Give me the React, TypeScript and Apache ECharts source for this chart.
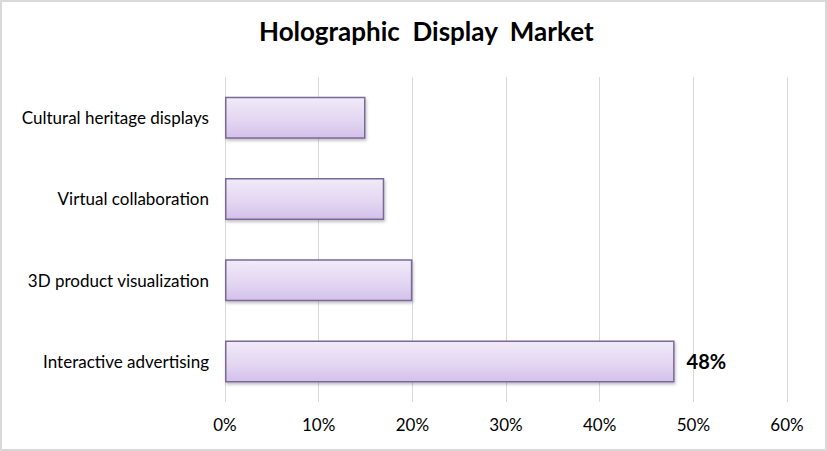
import { useEffect, useRef } from 'react';
import * as echarts from 'echarts';

const categories = [
  'Interactive advertising',
  '3D product visualization',
  'Virtual collaboration',
  'Cultural heritage displays',
];
const shares = [48, 20, 17, 15];
const labelledIndex = 0;
const xTicks = [0, 10, 20, 30, 40, 50, 60];

const FONT = 'Lato, "Open Sans", sans-serif';

const App: React.FC = () => {
  const divRef = useRef<HTMLDivElement | null>(null);

  useEffect(() => {
    document.body.style.margin = '0';
    if (!divRef.current) return;
    const chart = echarts.init(divRef.current, null, { renderer: 'svg' });

    const barFill = new echarts.graphic.LinearGradient(0, 0, 0, 1, [
      { offset: 0, color: '#f1ebf9' },
      { offset: 0.6, color: '#e2d5f1' },
      { offset: 1, color: '#d4c0ea' },
    ]);

    chart.setOption({
      animation: false,
      backgroundColor: '#fff',
      title: {
        text: 'Holographic  Display  Market',
        left: 252,
        top: 11,
        textStyle: { fontFamily: FONT, fontSize: 26, fontWeight: 'bold', color: '#000' },
      },
      grid: { left: 223, right: 38, top: 75, bottom: 47 },
      xAxis: {
        type: 'value',
        min: 0,
        max: 60,
        interval: 10,
        axisLabel: {
          formatter: (v: number) => (xTicks.includes(v) ? `${v}%` : ''),
          fontFamily: FONT,
          fontSize: 17,
          color: '#000',
          margin: 14,
        },
        axisLine: { show: false },
        axisTick: { show: false },
        splitLine: { lineStyle: { color: '#d9d9d9', width: 1 } },
      },
      yAxis: {
        type: 'category',
        data: categories,
        axisLine: { show: false },
        axisTick: { show: false },
        axisLabel: { fontFamily: FONT, fontSize: 17, color: '#000', margin: 16 },
      },
      series: [
        {
          type: 'bar',
          data: shares.map((v, i) => ({
            value: v,
            label: {
              show: i === labelledIndex,
              position: 'right',
              distance: 12,
              formatter: '{c}%',
              fontFamily: FONT,
              fontSize: 20,
              fontWeight: 'bold',
              color: '#000',
            },
          })),
          barWidth: 42,
          itemStyle: {
            color: barFill,
            borderColor: '#7a6998',
            borderWidth: 1.5,
            shadowColor: 'rgba(0,0,0,0.25)',
            shadowBlur: 3,
            shadowOffsetX: 1,
            shadowOffsetY: 2,
          },
        },
      ],
    });

    return () => chart.dispose();
  }, []);

  return (
    <div
      style={{
        width: 827,
        height: 451,
        boxSizing: 'border-box',
        border: '2px solid #d9d9d9',
      }}
    >
      <div ref={divRef} style={{ width: 823, height: 447 }} />
    </div>
  );
};

export default App;
